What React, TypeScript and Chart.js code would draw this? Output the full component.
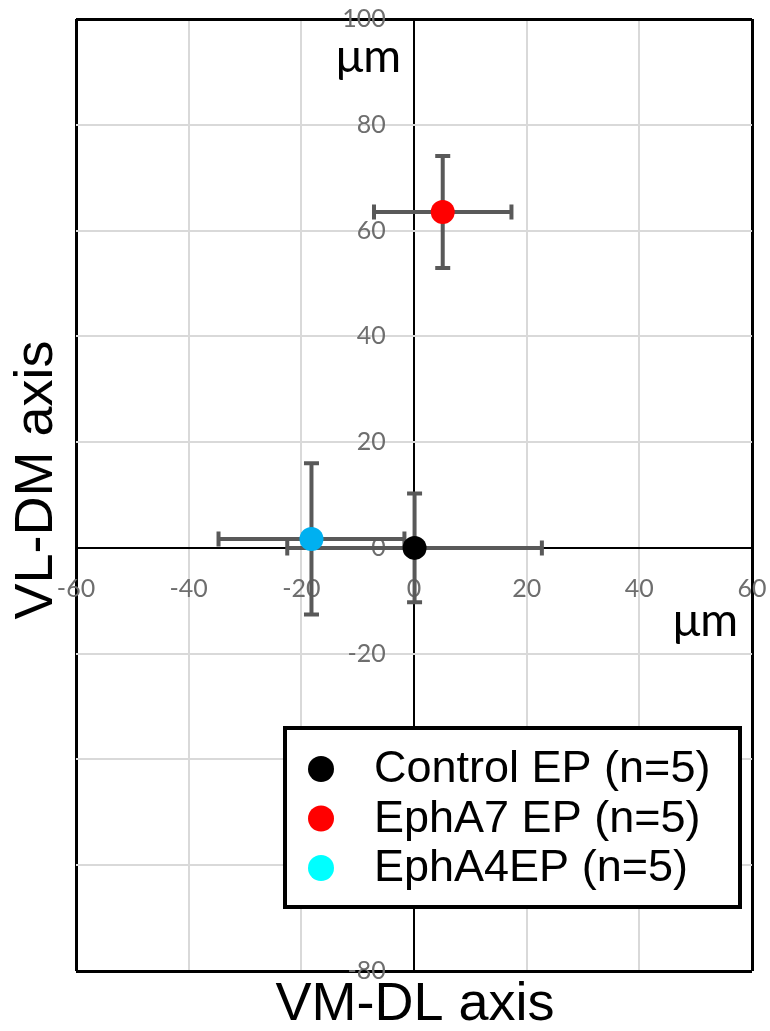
import React, { useEffect, useRef } from 'react';
import { Chart, registerables } from 'chart.js';

Chart.register(...registerables);

const seriesLabels = ['Control EP (n=5)', 'EphA7 EP (n=5)', 'EphA4EP (n=5)'];
const xMeans = [0.1, 5.1, -18.2];
const yMeans = [0, 63.5, 1.7];
const xErrors = [22.6, 12.2, 16.5];
const yErrors = [10.3, 10.6, 14.3];
const pointColors = ['#000000', '#ff0000', '#00b0f0'];
const legendColors = ['#000000', '#ff0000', '#00ffff'];
const xTickValues = [-60, -40, -20, 0, 20, 40, 60];
const yTickValues = [-80, -60, -40, -20, 0, 20, 40, 60, 80, 100];
const xTitle = 'VM-DL axis';
const yTitle = 'VL-DM axis';
const unitLabel = 'μm';

const TICK_FONT = { family: 'Lato, "Open Sans", sans-serif', size: 25 };
const TICK_COLOR = '#6e6e6e';

const errorBarPlugin = {
  id: 'errorBars',
  beforeDatasetsDraw(chart: any) {
    const { ctx } = chart;
    const xs = chart.scales.x;
    const ys = chart.scales.y;
    const cap = 7.5;
    ctx.save();
    ctx.strokeStyle = '#595959';
    ctx.lineWidth = 4;
    ctx.lineCap = 'butt';
    xMeans.forEach((xm, i) => {
      const px = xs.getPixelForValue(xm);
      const py = ys.getPixelForValue(yMeans[i]);
      const x1 = xs.getPixelForValue(xm - xErrors[i]);
      const x2 = xs.getPixelForValue(xm + xErrors[i]);
      const y1 = ys.getPixelForValue(yMeans[i] + yErrors[i]);
      const y2 = ys.getPixelForValue(yMeans[i] - yErrors[i]);
      ctx.beginPath();
      ctx.moveTo(x1, py); ctx.lineTo(x2, py);
      ctx.moveTo(px, y1); ctx.lineTo(px, y2);
      ctx.moveTo(x1, py - cap); ctx.lineTo(x1, py + cap);
      ctx.moveTo(x2, py - cap); ctx.lineTo(x2, py + cap);
      ctx.moveTo(px - cap, y1); ctx.lineTo(px + cap, y1);
      ctx.moveTo(px - cap, y2); ctx.lineTo(px + cap, y2);
      ctx.stroke();
    });
    ctx.restore();
  },
};

const decorPlugin = {
  id: 'decor',
  afterDraw(chart: any) {
    const { ctx, chartArea: a } = chart;
    ctx.save();
    ctx.fillStyle = '#000';
    ctx.font = '54px "Liberation Sans", Arial, sans-serif';
    ctx.textAlign = 'center';
    ctx.textBaseline = 'middle';
    ctx.fillText(xTitle, (a.left + a.right) / 2 + 1, a.bottom + 34);
    ctx.save();
    ctx.translate(a.left - 39, (a.top + a.bottom) / 2 - 15);
    ctx.rotate(-Math.PI / 2);
    ctx.fillText(yTitle, 0, 0);
    ctx.restore();
    ctx.font = '46px Lato, "Open Sans", sans-serif';
    const zx = chart.scales.x.getPixelForValue(0);
    ctx.textAlign = 'right';
    ctx.fillText(unitLabel, zx - 13, a.top + 38);
    ctx.fillText(unitLabel, a.right - 14, chart.scales.y.getPixelForValue(0) + 73);
    const lx = a.left + 209;
    const ly = a.bottom - 243;
    const lw = a.right - 12 - lx;
    const lh = 179;
    ctx.fillStyle = '#fff';
    ctx.fillRect(lx, ly, lw, lh);
    ctx.strokeStyle = '#000';
    ctx.lineWidth = 4;
    ctx.strokeRect(lx, ly, lw, lh);
    ctx.font = '45px "Liberation Sans", Arial, sans-serif';
    ctx.textAlign = 'left';
    ctx.textBaseline = 'middle';
    seriesLabels.forEach((lab, i) => {
      const cy = ly + 41 + i * 49.5;
      ctx.fillStyle = legendColors[i];
      ctx.beginPath();
      ctx.arc(lx + 36, cy, 13, 0, Math.PI * 2);
      ctx.fill();
      ctx.fillStyle = '#000';
      ctx.fillText(lab, lx + 89, cy + 1);
    });
    ctx.restore();
  },
};

const gridColor = (edges: number[]) => (c: any) =>
  c.tick && edges.includes(c.tick.value) ? '#000000' : '#d9d9d9';
const gridWidth = (outer: number[]) => (c: any) =>
  c.tick && outer.includes(c.tick.value) ? 3 : 2;

const zeroFit = (dim: 'width' | 'height') => (s: any) => {
  s[dim] = 0;
  s.paddingLeft = 0;
  s.paddingRight = 0;
  s.paddingTop = 0;
  s.paddingBottom = 0;
};

export default function App() {
  const ref = useRef<HTMLCanvasElement>(null);
  useEffect(() => {
    if (!ref.current) return;
    const chart = new Chart(ref.current, {
      type: 'scatter',
      data: {
        datasets: seriesLabels.map((label, i) => ({
          label,
          data: [{ x: xMeans[i], y: yMeans[i] }],
          backgroundColor: pointColors[i],
          borderWidth: 0,
          pointRadius: 12,
          pointHoverRadius: 12,
        })),
      },
      options: {
        animation: false,
        responsive: false,
        layout: { padding: { left: 76, right: 18, top: 19, bottom: 60 } },
        plugins: { legend: { display: false }, tooltip: { enabled: false }, title: { display: false } },
        scales: {
          x: {
            type: 'linear',
            min: -60,
            max: 60,
            position: { y: 0 } as any,
            afterBuildTicks: (s: any) => { s.ticks = xTickValues.map((v) => ({ value: v })); },
            afterFit: zeroFit('height'),
            border: { display: false },
            grid: { color: gridColor([-60, 0, 60]), lineWidth: gridWidth([-60, 60]), drawTicks: false },
            ticks: { font: TICK_FONT, color: TICK_COLOR, padding: 26, maxRotation: 0, autoSkip: false },
          },
          y: {
            type: 'linear',
            min: -80,
            max: 100,
            position: { x: -5 } as any,
            afterBuildTicks: (s: any) => { s.ticks = yTickValues.map((v) => ({ value: v })); },
            afterFit: zeroFit('width'),
            border: { display: false },
            grid: { color: gridColor([-80, 0, 100]), lineWidth: gridWidth([-80, 100]), drawTicks: false },
            ticks: { font: TICK_FONT, color: TICK_COLOR, padding: 0, autoSkip: false },
          },
        },
      },
      plugins: [errorBarPlugin, decorPlugin],
    });
    return () => chart.destroy();
  }, []);
  return (
    <div style={{ position: 'fixed', left: 0, top: 0, width: 770, height: 1031, background: '#fff' }}>
      <canvas ref={ref} width={770} height={1031} style={{ width: 770, height: 1031, display: 'block' }} />
    </div>
  );
}
